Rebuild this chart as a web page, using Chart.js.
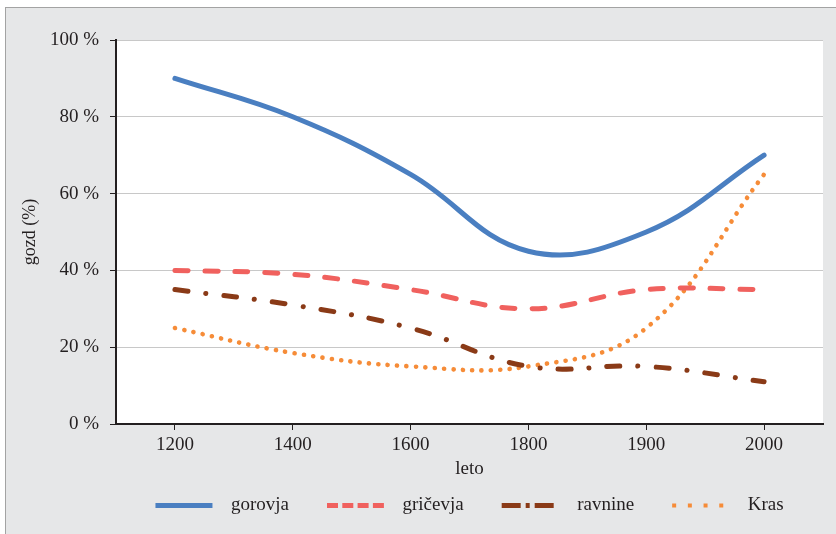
<!DOCTYPE html>
<html>
<head>
<meta charset="utf-8">
<script src="https://cdn.jsdelivr.net/npm/chart.js@4/dist/chart.umd.min.js"></script>
<style>
  html, body { margin: 0; padding: 0; background: #fff; }
  #wrap { width: 836px; height: 534px; }
</style>
</head>
<body>
<div id="wrap"><canvas id="forestChart" width="836" height="534"></canvas></div>
<script>
const years = ['1200', '1400', '1600', '1800', '1900', '2000'];
const gorovja = [90, 80, 65, 45, 50, 70];
const gricevja = [40, 39, 35, 30, 35, 35];
const ravnine = [35, 31, 25, 15, 15, 11];
const kras = [25, 18.5, 15, 15, 25, 65];
const yTicks = [0, 20, 40, 60, 80, 100];

const serif = '"Liberation Serif", "DejaVu Serif", serif';

// vzorci črt v legendi (zadnji del okvirčka ostane prazen)
const legendDash = [
    [57, 100],
    [11, 4.3, 11, 4.3, 11, 4.3, 11, 100],
    [19, 5, 4, 5, 19, 100],
    [4, 11.7, 4, 11.7, 4, 11.7, 4, 100]
];

// ozadje: siv okvir in bel risalni del
const panelBg = {
    id: 'panelBg',
    beforeDraw(chart) {
        const { ctx, chartArea } = chart;
        ctx.save();
        ctx.fillStyle = '#ffffff';
        ctx.fillRect(0, 0, chart.width, chart.height);
        ctx.fillStyle = '#e6e7e8';
        ctx.fillRect(5, 7, chart.width - 5, chart.height - 7);
        ctx.fillStyle = '#a3a3a3';
        ctx.fillRect(5, 7, chart.width - 5, 1);
        ctx.fillRect(5, 7, 1, chart.height - 7);
        ctx.fillStyle = '#ffffff';
        ctx.fillRect(chartArea.left, chartArea.top, chartArea.right - chartArea.left, chartArea.bottom - chartArea.top);
        ctx.restore();
    }
};

const ctx = document.getElementById('forestChart').getContext('2d');
new Chart(ctx, {
    type: 'line',
    data: {
        labels: years,
        datasets: [
            {
                label: 'gorovja',
                data: gorovja,
                borderColor: '#4a7fc1',
                backgroundColor: '#4a7fc1',
                borderWidth: 5,
                borderCapStyle: 'round',
                tension: 0.4
            },
            {
                label: 'gričevja',
                data: gricevja,
                borderColor: '#f0615e',
                backgroundColor: '#f0615e',
                borderWidth: 5,
                borderDash: [13, 17],
                borderCapStyle: 'round',
                tension: 0.4
            },
            {
                label: 'ravnine',
                data: ravnine,
                borderColor: '#8a3a17',
                backgroundColor: '#8a3a17',
                borderWidth: 5,
                borderDash: [13, 18, 0.1, 18],
                borderCapStyle: 'round',
                tension: 0.4
            },
            {
                label: 'Kras',
                data: kras,
                borderColor: '#f68c38',
                backgroundColor: '#f68c38',
                borderWidth: 4.6,
                borderDash: [0.1, 9.3],
                borderCapStyle: 'round',
                tension: 0.4
            }
        ]
    },
    options: {
        responsive: false,
        animation: false,
        events: [],
        layout: { padding: { top: 40, right: 13, bottom: 9, left: 0 } },
        elements: { point: { radius: 0 } },
        plugins: {
            tooltip: { enabled: false },
            legend: {
                position: 'bottom',
                fullSize: false,
                labels: {
                    usePointStyle: true,
                    pointStyle: 'line',
                    pointStyleWidth: 66,
                    boxHeight: 5,
                    padding: 38,
                    color: '#231f20',
                    font: { family: serif, size: 19 },
                    generateLabels: (chart) => {
                        const items = Chart.defaults.plugins.legend.labels.generateLabels(chart);
                        return items.map((item, i) => ({
                            ...item,
                            strokeStyle: chart.data.datasets[i].borderColor,
                            fillStyle: chart.data.datasets[i].borderColor,
                            lineWidth: i === 3 ? 4 : 5,
                            lineCap: 'butt',
                            lineDash: legendDash[i],
                            lineDashOffset: 0
                        }));
                    }
                }
            }
        },
        scales: {
            x: {
                type: 'category',
                offset: true,
                afterFit: (scale) => { scale.height = 34; },
                grid: {
                    drawOnChartArea: false,
                    tickColor: '#231f20',
                    tickLength: 6,
                    offset: false
                },
                border: { color: '#231f20', width: 2 },
                ticks: {
                    color: '#231f20',
                    padding: 4,
                    font: { family: serif, size: 19 }
                },
                title: {
                    display: true,
                    text: 'leto',
                    color: '#231f20',
                    padding: { top: 0, bottom: -22 },
                    font: { family: serif, size: 19 }
                }
            },
            y: {
                min: 0,
                max: 100,
                afterFit: (scale) => { scale.width = 116; },
                afterBuildTicks: (scale) => { scale.ticks = yTicks.map(v => ({ value: v })); },
                grid: {
                    color: '#c8c8c8',
                    lineWidth: 1,
                    tickColor: '#231f20',
                    tickLength: 6
                },
                border: { color: '#231f20', width: 2 },
                ticks: {
                    color: '#231f20',
                    padding: 11,
                    font: { family: serif, size: 19 },
                    callback: (v) => v + ' %'
                },
                title: {
                    display: true,
                    text: 'gozd (%)',
                    color: '#231f20',
                    padding: { top: 19, bottom: 0 },
                    font: { family: serif, size: 18 }
                }
            }
        }
    },
    plugins: [panelBg]
});
</script>
</body>
</html>
